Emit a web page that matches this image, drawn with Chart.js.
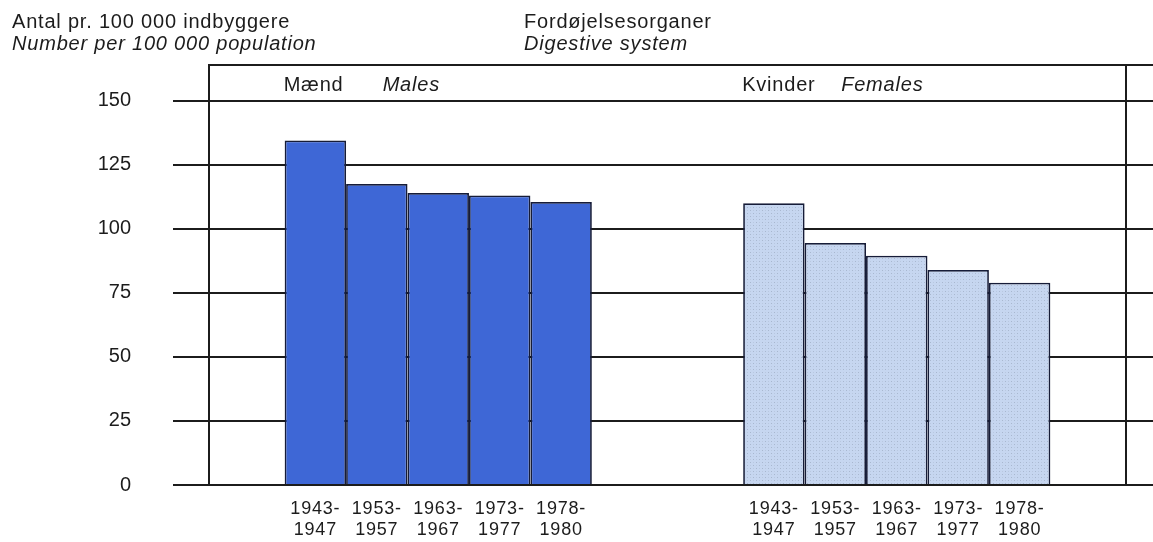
<!DOCTYPE html>
<html lang="da">
<head>
<meta charset="utf-8">
<title>Fordøjelsesorganer</title>
<script src="https://cdn.jsdelivr.net/npm/chart.js@4/dist/chart.umd.min.js"></script>
<style>
  html,body{margin:0;padding:0;background:#fff;}
  body{font-family:"Liberation Sans",Arial,Helvetica,sans-serif;color:#1c1c1c;}
  .wrap{position:relative;width:1153px;height:542px;overflow:hidden;}
  .wrap canvas{position:absolute;left:0;top:0;}
  .hdr{position:absolute;top:10px;font-size:20px;line-height:22px;letter-spacing:.8px;white-space:nowrap;}
  .hdr .en{font-style:italic;}
  #hdrLeft{left:12px;}
  #hdrMid{left:524px;}
</style>
</head>
<body>
<div class="wrap">
  <canvas id="chart" width="1153" height="542"></canvas>
  <div class="hdr" id="hdrLeft"><div>Antal pr. 100 000 indbyggere</div><div class="en">Number per 100 000 population</div></div>
  <div class="hdr" id="hdrMid"><div>Fordøjelsesorganer</div><div class="en">Digestive system</div></div>
</div>
<script>
const $ = (id) => document.getElementById(id);

// data
const PERIODS = [["1943-","1947"],["1953-","1957"],["1963-","1967"],["1973-","1977"],["1978-","1980"]];
const GROUPS = [["Mænd","Males"],["Kvinder","Females"]];
const MALES = [134.5, 117.5, 114, 113, 110.5];
const FEMALES = [110, 94.5, 89.5, 84, 79];
const Y_TICKS = [0, 25, 50, 75, 100, 125, 150];

const INK = "#1c1c1c";
const BLUE = "#3e67d6";
const EDGE = "#161c38";
const FONT = "'Liberation Sans', Arial, Helvetica, sans-serif";

Chart.defaults.color = INK;
Chart.defaults.font.family = FONT;

// speckled light blue screen used for the female bars
function stipple(ctx){
  const c = document.createElement("canvas"); c.width = c.height = 6;
  const g = c.getContext("2d");
  g.fillStyle = "#c6d6f0"; g.fillRect(0,0,6,6);
  g.fillStyle = "#a8b7cf"; g.fillRect(0,0,1,1); g.fillRect(3,3,1,1);
  g.fillStyle = "#b9c8e0"; g.fillRect(3,0,1,1); g.fillRect(0,3,1,1);
  return ctx.createPattern(c, "repeat");
}

// period labels under every bar, group headings, top rule of the frame
const labelsPlugin = {
  id: "barLabels",
  afterDatasetsDraw(chart){
    const { ctx, chartArea: a } = chart;
    ctx.save();
    ctx.fillStyle = INK;
    ctx.letterSpacing = "0.8px";
    ctx.textBaseline = "alphabetic";

    ctx.font = `18px ${FONT}`;
    ctx.textAlign = "center";
    chart.data.datasets.forEach((ds, i) => {
      chart.getDatasetMeta(i).data.forEach(bar => {
        PERIODS[i].forEach((line, k) => ctx.fillText(line, bar.x, a.bottom + 29 + k * 21));
      });
    });

    ctx.textAlign = "left";
    const first = chart.getDatasetMeta(0).data;
    GROUPS.forEach((g, j) => {
      const left = first[j].x - first[j].width / 2;
      ctx.font = `20px ${FONT}`;
      ctx.fillText(g[0], left - 1, a.top + 26);
      ctx.font = `italic 20px ${FONT}`;
      ctx.fillText(g[1], left + 98, a.top + 26);
    });

    ctx.strokeStyle = INK; ctx.lineWidth = 2;
    ctx.beginPath(); ctx.moveTo(a.left, a.top); ctx.lineTo(chart.width, a.top); ctx.stroke();
    ctx.restore();
  }
};

const setTicks = (s) => { s.ticks = Y_TICKS.map(v => ({ value: v })); };

(function main(){
  const canvas = $("chart");
  const pattern = stipple(canvas.getContext("2d"));

  const datasets = PERIODS.map((p, i) => ({
    label: p.join(""),
    data: [MALES[i], FEMALES[i]],
    backgroundColor: [BLUE, pattern],
    borderColor: EDGE,
    borderWidth: 1.75,
    borderSkipped: "bottom",
    categoryPercentage: 0.67,
    barPercentage: 1
  }));

  new Chart(canvas, {
    type: "bar",
    data: { labels: GROUPS.map(g => g[1]), datasets },
    options: {
      responsive: false, animation: false,
      layout: { padding: { top: 65, bottom: 57, left: 0, right: 0 } },
      plugins: { legend: { display: false }, tooltip: { enabled: false } },
      scales: {
        x: {
          grid: { display: false, drawTicks: false },
          ticks: { display: false },
          border: { display: true, color: INK, width: 2, z: 1 },
          afterFit: (s) => { s.height = 0; }
        },
        y: {
          type: "linear", min: 0, max: 164,
          afterBuildTicks: setTicks,
          afterFit: (s) => { s.width = 209; },
          grid: { color: INK, lineWidth: 2, tickLength: 36 },
          border: { color: INK, width: 2 },
          ticks: { color: INK, padding: 42, font: { size: 20, family: FONT } }
        },
        y2: {
          type: "linear", position: "right", min: 0, max: 164,
          afterBuildTicks: setTicks,
          afterFit: (s) => { s.width = 27; },
          grid: { drawOnChartArea: false, color: INK, lineWidth: 2, tickLength: 27 },
          border: { color: INK, width: 2 },
          ticks: { display: false }
        }
      }
    },
    plugins: [labelsPlugin]
  });
})();
</script>
</body>
</html>
